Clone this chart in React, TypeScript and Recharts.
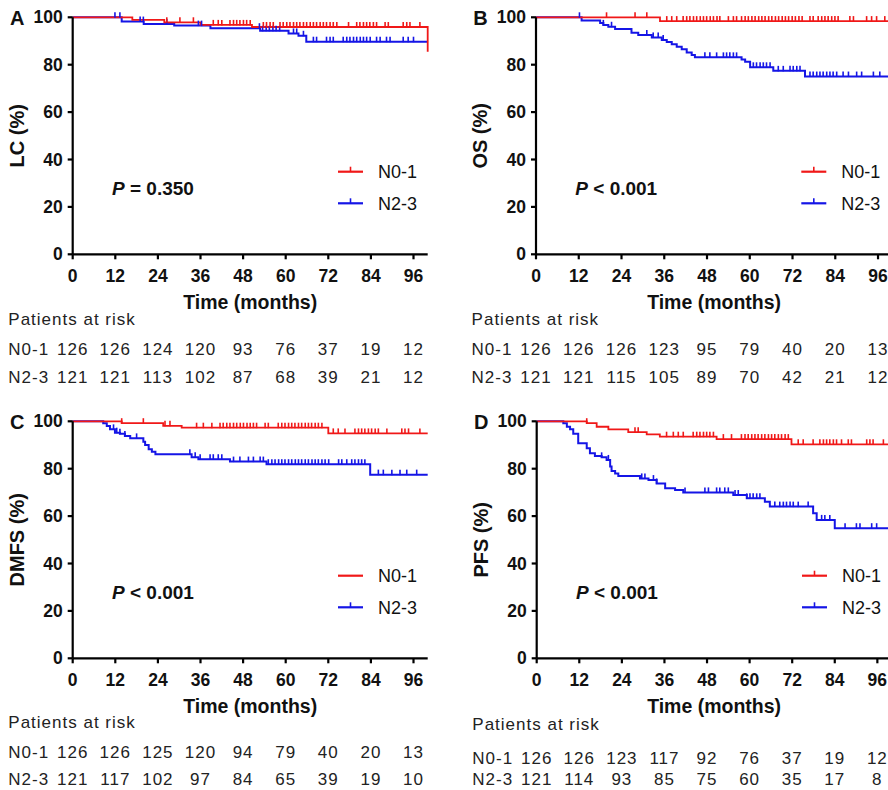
import React from "react";
import { ComposedChart, Line, Scatter, XAxis, YAxis } from "recharts";

type Pt = [number, number];

const months = [0, 12, 24, 36, 48, 60, 72, 84, 96];
const pctTicks = [0, 20, 40, 60, 80, 100];
const groups = ["N0-1", "N2-3"];

// A - local control
const lcN01: Pt[] = [[0, 100], [16.8, 98.9], [25.8, 97.9], [36, 96.8], [50.5, 95.9], [100, 85.5]];
const lcN23: Pt[] = [[0, 100], [13.8, 98.2], [20, 97.2], [28.6, 96.5], [38.8, 95.4], [52.8, 94.3], [60.8, 93.2], [63.6, 92.2], [65.8, 89.7], [100, 89.7]];
const lcN01Cens = [26.5, 30.2, 34, 39.6, 41, 42, 44.3, 45.3, 46.2, 47.1, 48.1, 49, 50, 53.7, 54.6, 55.6, 56.5, 58.4, 59.3, 60.3, 61.2, 62.2, 63.1, 64, 65, 65.9, 66.9, 67.8, 68.7, 69.7, 70.6, 71.5, 72.5, 73.4, 74.4, 77.7, 80, 80.9, 81.9, 82.8, 83.7, 84.7, 85.6, 88, 88.9, 93.1, 94.1, 95, 97.8];
const lcN23Cens = [11.9, 13.3, 19, 19.9, 26.5, 35.4, 36.3, 52.6, 53.5, 54.5, 55.4, 56.4, 57.3, 58.3, 62.2, 63.1, 65, 67.8, 68.7, 71.5, 72.5, 73.4, 76.2, 77.2, 78.1, 79.1, 80, 81, 81.9, 82.8, 83.8, 85.6, 86.6, 88.4, 89.4, 93.1, 94.5, 96];
const lcRiskN01 = [126, 126, 124, 120, 93, 76, 37, 19, 12];
const lcRiskN23 = [121, 121, 113, 102, 87, 68, 39, 21, 12];

// B - overall survival
const osN01: Pt[] = [[0, 100], [34.8, 98.4], [98.8, 98.4]];
const osN23: Pt[] = [[0, 100], [12.8, 98.6], [18, 97.6], [18.9, 96.8], [20.3, 96], [22.2, 95.1], [26.8, 93.5], [28.7, 92.5], [32.5, 91.5], [35.3, 90.4], [36.7, 89.6], [38.1, 88.6], [39.5, 87.6], [40.9, 86.5], [42.3, 85.2], [43.7, 84.1], [44.6, 83.1], [57.7, 82.2], [58.7, 81.2], [60.1, 78.9], [66.6, 77.4], [75.5, 75], [98.8, 75]];
const osN01Cens = [19.8, 27.8, 31.1, 36.7, 38.1, 39.5, 41.3, 42.3, 43.2, 44.2, 45.1, 46.1, 47, 47.9, 48.9, 49.8, 50.8, 51.6, 54, 55.4, 56.3, 57.7, 58.7, 59.6, 60.6, 61.5, 62.5, 63.4, 64.3, 65.3, 66.2, 67.2, 68.1, 69.1, 70, 70.9, 71.9, 72.8, 73.8, 74.7, 76.9, 77.8, 79.2, 80.2, 81.1, 82, 83, 83.9, 84.8, 88.1, 89.1, 92.8, 94.2, 95.6, 97.9];
const osN23Cens = [12.2, 18.9, 21.2, 31.1, 32.9, 34.3, 35.7, 47.4, 48.8, 50.7, 52.6, 53.5, 54.4, 55.4, 56.3, 61, 61.9, 62.9, 63.8, 64.7, 65.7, 68, 69.4, 71.3, 72.2, 73.2, 74.1, 76.9, 77.8, 78.8, 79.7, 80.6, 81.6, 82.5, 83.4, 84.4, 86.2, 87.7, 90, 91.4, 94.7, 96.5];
const osRiskN01 = [126, 126, 126, 123, 95, 79, 40, 20, 13];
const osRiskN23 = [121, 121, 115, 105, 89, 70, 42, 21, 12];

// C - distant metastasis-free survival
const dmN01: Pt[] = [[0, 100], [13.8, 99.2], [25.5, 98.1], [30.7, 97.3], [72, 94.9], [100, 94.9]];
const dmN23: Pt[] = [[0, 100], [8.6, 99.2], [9.6, 98], [10.5, 96.6], [11.9, 95.2], [13.3, 94.7], [14.7, 93.8], [16.2, 92.8], [19.9, 91.4], [20.4, 90], [21.4, 88.2], [22.3, 87.2], [23.3, 86.1], [33.5, 84.8], [35.4, 84], [44.3, 83], [54.6, 81.9], [83.8, 77.5], [100, 77.5]];
const dmN01Cens = [13.8, 19.9, 26, 27.4, 34.9, 36.8, 39.2, 41.5, 42.4, 43.4, 44.3, 45.3, 46.2, 47.2, 48.1, 49.1, 50, 50.9, 51.8, 54.2, 55.1, 57.9, 58.9, 59.8, 60.8, 61.7, 62.6, 63.6, 64.5, 65.5, 66.4, 67.3, 68.3, 69.2, 70.2, 73.4, 74.8, 76.7, 79.5, 80.5, 81.4, 82.3, 83.3, 84.2, 85.2, 86.1, 88.5, 92.7, 93.6, 94.6, 97.8];
const dmN23Cens = [11.5, 12.4, 13.3, 14.7, 18, 33, 34.5, 35.9, 38.7, 39.6, 41, 42, 45.3, 47.1, 49.5, 50.9, 52.8, 53.7, 55.1, 56.1, 57, 58, 58.9, 59.8, 60.8, 61.7, 62.7, 63.6, 64.5, 65.5, 66.4, 67.4, 68.3, 69.2, 70.2, 71.1, 72.1, 74.9, 75.8, 77.2, 78.6, 79.5, 80.5, 81.4, 82.3, 86.1, 87.5, 89.9, 92.2, 94.1, 96.9];
const dmRiskN01 = [126, 126, 125, 120, 94, 79, 40, 20, 13];
const dmRiskN23 = [121, 117, 102, 97, 84, 65, 39, 19, 10];

// D - progression-free survival
const pfN01: Pt[] = [[0, 100], [14.1, 99.2], [16.9, 97.7], [20.2, 96.6], [25.8, 95.4], [31, 94.5], [34.7, 93.5], [50.7, 92.5], [71.8, 90.3], [99, 90.3]];
const pfN23: Pt[] = [[0, 100], [7.5, 99.2], [8.5, 97.7], [9.4, 96.6], [10.3, 94.7], [11.7, 90.7], [14.1, 88.6], [15, 86.5], [16.4, 85.4], [18.3, 84.8], [19.7, 83.7], [20.7, 80.9], [21.1, 79], [22.1, 78], [23, 76.9], [29.1, 75.9], [31.5, 75.2], [33.8, 73.8], [36.2, 71.7], [39, 71], [41.3, 70], [55.4, 68.9], [59.2, 67.5], [64.3, 66.1], [65.7, 64], [77.9, 61.2], [78.9, 58.4], [84, 54.9], [99, 54.9]];
const pfN01Cens = [14.1, 27.7, 28.6, 36.6, 38.5, 39.9, 41.3, 44.1, 45.1, 46, 47, 47.9, 48.8, 49.8, 52.6, 54.9, 57.7, 58.7, 59.6, 60.6, 61.5, 62.4, 63.4, 64.3, 65.3, 66.2, 67.1, 68.1, 69, 70, 70.9, 73.7, 75.1, 77.9, 79.8, 80.8, 81.7, 82.6, 83.6, 84.5, 85.9, 87.8, 88.7, 93, 93.9, 94.8, 97.7];
const pfN23Cens = [18.3, 20.2, 29.6, 30.5, 32.9, 33.8, 41.8, 47.4, 48.4, 50.7, 51.6, 53, 54, 55.9, 56.8, 59.2, 60.1, 61, 62, 62.9, 67.1, 68.5, 69.5, 70.4, 71.4, 72.3, 73.7, 76.5, 80.3, 81.2, 82.6, 86.9, 90.1, 91.1, 94.4, 95.8];
const pfRiskN01 = [126, 126, 123, 117, 92, 76, 37, 19, 12];
const pfRiskN23 = [121, 114, 93, 85, 75, 60, 35, 17, 8];

const RED = "#f01818";
const BLUE = "#1515e6";
const FONT = "'Liberation Sans', Arial, sans-serif";

// survival value of a step curve at time t (for placing censor marks)
function stepAt(curve: Pt[], t: number) {
  let v = curve[0][1];
  for (const [x, y] of curve) {
    if (x <= t) v = y;
    else break;
  }
  return v;
}
const toRows = (curve: Pt[]) => curve.map(([t, v]) => ({ t, v }));
const censRows = (curve: Pt[], times: number[]) => times.map((t) => ({ t, v: stepAt(curve, t) }));

const censorShape = (color: string) => (props: any) => (
  <line x1={props.cx} x2={props.cx} y1={props.cy - 5} y2={props.cy + 0.5} stroke={color} strokeWidth={1.6} />
);

const panels = [
  {
    letter: "A", yLabel: "LC (%)", p: " = 0.350", left: 0, top: 0,
    plotLeft: 72.7, plotTop: 17.3, plotRight: 427.7, plotBottom: 254.3, xMax: 100,
    low: lcN01, high: lcN23, lowCens: lcN01Cens, highCens: lcN23Cens, risk1: lcRiskN01, risk2: lcRiskN23,
    rows: [100.7, 129], parY: 70.7, legendTick: [true, true],
  },
  {
    letter: "B", yLabel: "OS (%)", p: " < 0.001", left: 444, top: 0,
    plotLeft: 536, plotTop: 17.3, plotRight: 888, plotBottom: 254.3, xMax: 98.8,
    low: osN01, high: osN23, lowCens: osN01Cens, highCens: osN23Cens, risk1: osRiskN01, risk2: osRiskN23,
    rows: [100.7, 129], parY: 70.7, legendTick: [true, true],
  },
  {
    letter: "C", yLabel: "DMFS (%)", p: " < 0.001", left: 0, top: 395,
    plotLeft: 72.7, plotTop: 421.3, plotRight: 427.7, plotBottom: 658.3, xMax: 100,
    low: dmN01, high: dmN23, lowCens: dmN01Cens, highCens: dmN23Cens, risk1: dmRiskN01, risk2: dmRiskN23,
    rows: [100, 127], parY: 70, legendTick: [false, true],
  },
  {
    letter: "D", yLabel: "PFS (%)", p: " < 0.001", left: 444, top: 395,
    plotLeft: 536.7, plotTop: 421.3, plotRight: 888, plotBottom: 658.3, xMax: 99,
    low: pfN01, high: pfN23, lowCens: pfN01Cens, highCens: pfN23Cens, risk1: pfRiskN01, risk2: pfRiskN23,
    rows: [105.5, 127], parY: 71.7, legendTick: [true, true],
  },
];

type PanelCfg = (typeof panels)[number];

const Y_AXIS_W = 60;
const X_AXIS_H = 30;
const CHART_W = 444;
const CHART_H = 395;

function KMPanel({ cfg }: { cfg: PanelCfg }) {
  const margin = {
    top: cfg.plotTop - cfg.top,
    left: cfg.plotLeft - cfg.left - Y_AXIS_W,
    right: cfg.left + CHART_W - cfg.plotRight,
    bottom: cfg.top + CHART_H - cfg.plotBottom - X_AXIS_H,
  };

  // tick label + at-risk numbers below each month tick
  const xTick = (props: any) => {
    const { x, y, payload } = props;
    const i = months.indexOf(payload.value);
    const base = y - 7; // axis line position
    return (
      <g>
        <text x={x} y={base + 27.4} textAnchor="middle" fontFamily={FONT} fontWeight={700} fontSize={17.5} fill="#111">
          {payload.value}
        </text>
        <text x={x} y={base + cfg.rows[0]} textAnchor="middle" fontFamily={FONT} fontSize={17} letterSpacing={1} fill="#222">
          {cfg.risk1[i]}
        </text>
        <text x={x} y={base + cfg.rows[1]} textAnchor="middle" fontFamily={FONT} fontSize={17} letterSpacing={1} fill="#222">
          {cfg.risk2[i]}
        </text>
      </g>
    );
  };

  const yTick = (props: any) => {
    const { x, y, payload } = props;
    return (
      <text x={x} y={y + 6} textAnchor="end" fontFamily={FONT} fontWeight={700} fontSize={17.5} fill="#111">
        {payload.value}
      </text>
    );
  };

  return (
    <div style={{ position: "absolute", left: cfg.left, top: cfg.top, width: CHART_W, height: CHART_H }}>
      <ComposedChart width={CHART_W} height={CHART_H} margin={margin}>
        <XAxis
          dataKey="t"
          type="number"
          domain={[0, cfg.xMax]}
          ticks={months}
          interval={0}
          height={X_AXIS_H}
          tickSize={5}
          tickMargin={2}
          stroke="#000"
          strokeWidth={2.2}
          tick={xTick}
        />
        <YAxis
          dataKey="v"
          type="number"
          domain={[0, 100]}
          ticks={pctTicks}
          interval={0}
          width={Y_AXIS_W}
          tickSize={5}
          tickMargin={5}
          stroke="#000"
          strokeWidth={2.2}
          tick={yTick}
        />
        <Line data={toRows(cfg.high)} dataKey="v" type="stepAfter" stroke={BLUE} strokeWidth={2} dot={false} isAnimationActive={false} />
        <Line data={toRows(cfg.low)} dataKey="v" type="stepAfter" stroke={RED} strokeWidth={1.8} dot={false} isAnimationActive={false} />
        <Scatter data={censRows(cfg.high, cfg.highCens)} dataKey="v" shape={censorShape(BLUE)} isAnimationActive={false} />
        <Scatter data={censRows(cfg.low, cfg.lowCens)} dataKey="v" shape={censorShape(RED)} isAnimationActive={false} />
      </ComposedChart>
    </div>
  );
}

function Labels() {
  return (
    <svg width={888} height={790} style={{ position: "absolute", left: 0, top: 0, pointerEvents: "none" }}>
      {panels.map((p) => {
        const midY = (p.plotTop + p.plotBottom) / 2;
        const xScale = (p.plotRight - p.plotLeft) / p.xMax;
        const midX = p.plotLeft + 50 * xScale;
        const legX = p.plotLeft + 265.3;
        const legY = [p.plotTop + 154.4, p.plotTop + 186];
        const colors = [RED, BLUE];
        return (
          <g key={p.letter} fontFamily={FONT}>
            <text x={p.plotLeft - 62.7} y={p.plotTop + 7.5} fontWeight={700} fontSize={20} fill="#111">
              {p.letter}
            </text>
            <text
              transform={`translate(${p.plotLeft - 56},${midY}) rotate(-90)`}
              textAnchor="middle"
              dominantBaseline="central"
              fontWeight={700}
              fontSize={20}
              fill="#111"
            >
              {p.yLabel}
            </text>
            <text x={p.plotLeft + 39.3} y={p.plotTop + 177.7} fontWeight={700} fontSize={19} fill="#111">
              <tspan fontStyle="italic">P</tspan>
              {p.p}
            </text>
            {groups.map((g, i) => (
              <g key={g}>
                <line x1={legX} x2={legX + 25} y1={legY[i]} y2={legY[i]} stroke={colors[i]} strokeWidth={2.2} />
                {p.legendTick[i] && (
                  <line x1={legX + 12.5} x2={legX + 12.5} y1={legY[i] - 5} y2={legY[i]} stroke={colors[i]} strokeWidth={1.6} />
                )}
                <text x={legX + 40} y={legY[i] + 6.5} fontSize={18} fill="#111">
                  {g}
                </text>
              </g>
            ))}
            <text x={midX} y={p.plotBottom + 55} textAnchor="middle" fontWeight={700} fontSize={19.5} fill="#111">
              Time (months)
            </text>
            <text x={p.plotLeft - 64.4} y={p.plotBottom + p.parY} fontSize={17} letterSpacing={1} fill="#222">
              Patients at risk
            </text>
            {groups.map((g, i) => (
              <text key={g} x={p.plotLeft - 64.4} y={p.plotBottom + p.rows[i]} fontSize={17} letterSpacing={1} fill="#222">
                {g}
              </text>
            ))}
          </g>
        );
      })}
    </svg>
  );
}

export default function App() {
  return (
    <div style={{ position: "absolute", left: 0, top: 0, width: 888, height: 790, background: "#fff", overflow: "hidden" }}>
      {panels.map((p) => (
        <KMPanel key={p.letter} cfg={p} />
      ))}
      <Labels />
    </div>
  );
}
